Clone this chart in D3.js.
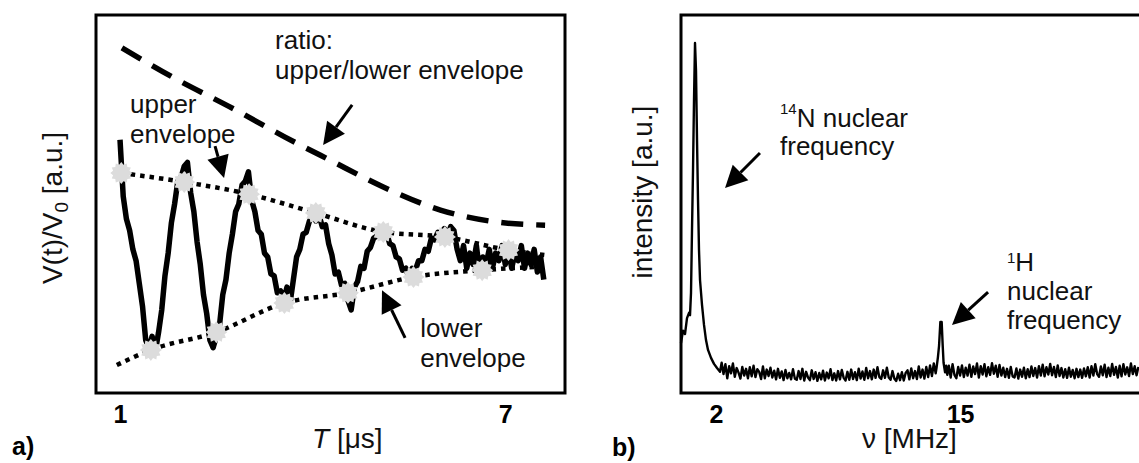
<!DOCTYPE html>
<html>
<head>
<meta charset="utf-8">
<script src="https://cdn.jsdelivr.net/npm/d3@7"></script>
<style>
  body { margin: 0; background: #fff; }
  svg { display: block; font-family: "Liberation Sans", Arial, sans-serif; }
</style>
</head>
<body>
<svg width="1139" height="463"></svg>
<script>
// ---------- panel a: time trace ----------
const sigStart = 1.0, sigStep = 0.05;
const sigV = [
  67, 52, 46, 43, 38, 35, 29, 23, 14, 12,
  15, 11, 16, 22, 31, 37, 45, 50, 56, 57,
  60, 61, 53, 48, 40, 34, 26, 21, 14, 12,
  15, 18, 26, 30, 37, 42, 48, 50, 55, 56,
  58.5, 51, 48, 43, 42, 37, 36, 31.5, 31, 26.5,
  27, 24.5, 28, 24, 30, 36, 38, 42, 42.5, 45.5,
  47, 45.5, 47, 44, 44.5, 39.5, 36.5, 31.5, 32, 28.5,
  29, 24.5, 22, 28, 29.5, 33.5, 33, 37.5, 38.5, 41,
  41.5, 43.5, 43, 42.5, 39.5, 39, 36, 35.5, 32.5, 33,
  30.5, 33, 32.5, 35, 35, 38, 37.5, 41, 40.5, 42.5,
  42, 43.5, 41.5, 44, 43, 38, 35, 39, 33, 37,
  34, 39, 32, 36, 34, 38, 33, 37, 35, 39,
  34, 38, 33, 37, 35, 39, 33, 37, 34, 38,
  32, 36, 30
];
const upperT = [1.02, 2.0, 3.01, 4.05, 5.1, 6.06, 7.05, 7.62];
const upperV = [58.2, 55.8, 52.6, 47.6, 42.6, 41.3, 37.8, 36.5];
const lowerT = [0.95, 1.48, 2.5, 3.56, 4.55, 5.57, 6.64, 7.62];
const lowerV = [7.4, 11.4, 16.1, 23.8, 26.5, 30.7, 32.5, 33.5];
const starUpT = [1.02, 2.0, 3.01, 4.05, 5.1, 6.06, 7.05];
const starUpV = [58.2, 55.8, 52.6, 47.6, 42.6, 41.3, 37.8];
const starLoT = [1.48, 2.5, 3.56, 4.55, 5.57, 6.64];
const starLoV = [11.4, 16.1, 23.8, 26.5, 30.7, 32.5];
const ratioT = [1.03, 1.9, 2.71, 3.57, 4.27, 5.1, 5.99, 6.88, 7.62];
const ratioV = [91.3, 82.8, 75.7, 67.7, 61.6, 54.5, 48.4, 45.2, 44.4];
const tTicks = [1, 7];

// ---------- panel b: spectrum ----------
const peakNF = [0.135, 0.242, 0.348, 0.455, 0.562, 0.615, 0.668, 0.721, 0.775, 0.828, 0.881,
  0.934, 0.988, 1.041, 1.094, 1.148, 1.254, 1.361, 1.467, 1.574, 1.734, 1.893, 2.053, 2.213];
const peakNI = [13.2, 16.5, 15.6, 19.8, 21.2, 20.6, 26.5, 43.1, 59.0, 77.5, 92.6,
  85.4, 66.9, 51.1, 37.8, 29.9, 23.3, 18.0, 14.0, 11.4, 9.3, 7.7, 6.6, 5.6];
const noiseAStart = 2.3;
const noiseA = [
  8.0, 5.0, 7.6, 3.9, 7.1, 5.2, 7.8, 4.3, 6.6, 5.4,
  3.8, 6.9, 4.6, 6.4, 3.9, 6.8, 4.4, 7.2, 4.2, 6.3,
  5.6, 3.7, 7.0, 3.9, 6.2, 4.5, 6.7, 4.1, 5.9, 3.6,
  6.4, 4.0, 5.7, 3.4, 6.1, 3.9, 5.3, 3.6, 6.3, 3.8,
  3.5, 5.8, 3.7, 6.4, 3.3, 5.6, 4.1, 3.4, 6.0, 3.7,
  5.5, 3.2, 5.3, 3.6, 5.9, 3.3, 5.4, 3.9, 6.3, 3.4,
  5.2, 3.3, 5.8, 3.6, 6.1, 4.0, 3.3, 5.6, 3.5, 6.2,
  3.7, 5.5, 3.4, 6.4, 3.8, 5.7, 3.5, 6.6, 3.9, 5.8,
  3.6, 6.2, 4.0, 6.8, 4.2, 3.7, 6.0, 4.0, 6.7, 4.1,
  3.5, 5.8, 3.8, 3.2, 5.1, 3.4, 5.5, 3.3, 5.3, 6.0,
  3.6, 6.5, 3.9, 5.8, 3.7, 7.0, 4.1, 6.2, 3.8, 6.9,
  4.2, 7.3, 4.5, 7.8, 5.2
];
const peakHF = [13.75, 13.82, 13.88, 13.95, 14.02, 14.07, 14.12, 14.2, 14.26, 14.32];
const peakHI = [6.8, 9.5, 12.5, 18.8, 18.8, 13, 8, 5.5, 7.2, 4.8];
const noiseBStart = 14.4;
const noiseB = [
  7.2, 4.1, 7.6, 4.8, 3.9, 6.9, 4.6, 7.3, 4.2, 6.7,
  4.6, 7.5, 4.3, 7.0, 5.0, 7.8, 4.1, 7.1, 4.9, 7.6,
  4.4, 6.8, 4.8, 7.9, 5.1, 7.2, 4.3, 7.4, 4.6, 6.7,
  4.2, 6.4, 4.0, 6.9, 4.4, 4.1, 6.5, 3.8, 6.2, 4.3,
  6.7, 3.9, 6.3, 4.2, 7.0, 4.5, 6.6, 4.1, 7.1, 4.6,
  7.5, 4.4, 6.8, 4.9, 7.7, 4.7, 6.9, 4.2, 7.3, 4.5,
  6.6, 4.1, 6.3, 4.0, 6.7, 4.3, 6.1, 3.9, 6.4, 4.2,
  6.2, 4.0, 6.5, 4.4, 6.8, 4.1, 7.1, 4.6, 7.6, 5.0,
  4.3, 7.0, 4.7, 7.5, 4.2, 6.7, 4.5, 7.7, 4.8, 6.9,
  4.1, 7.2, 4.4, 7.6, 4.9, 6.8, 4.5, 7.8, 5.0, 7.1,
  4.7, 6.9
];
const fTicks = [2, 15];

const svg = d3.select("svg");
const font = "Liberation Sans, Arial, sans-serif";
const noteSize = 26;

function arrow(g, x1, y1, x2, y2) {
  const ang = Math.atan2(y2 - y1, x2 - x1);
  const L = 22, hw = 11;
  const bx = x2 - L * Math.cos(ang), by = y2 - L * Math.sin(ang);
  g.append("line")
    .attr("x1", x1).attr("y1", y1).attr("x2", bx).attr("y2", by)
    .attr("stroke", "#000").attr("stroke-width", 3);
  const px = -Math.sin(ang) * hw, py = Math.cos(ang) * hw;
  g.append("path")
    .attr("d", `M${x2},${y2}L${bx + px},${by + py}L${bx - px},${by - py}Z`)
    .attr("fill", "#000");
}

function burst(r1, r2, n) {
  const pts = d3.range(2 * n).map(i => {
    const a = Math.PI * i / n;
    const r = i % 2 ? r2 : r1;
    return [r * Math.sin(a), -r * Math.cos(a)];
  });
  return "M" + pts.join("L") + "Z";
}

function note(g, x, y, text) {
  return g.append("text").attr("x", x).attr("y", y)
    .attr("font-size", noteSize).attr("fill", "#111").text(text);
}

// ===== panel a =====
const xa = d3.scaleLinear().domain([0.626, 7.93]).range([96, 565]);
const ya = d3.scaleLinear().domain([0, 100]).range([393, 15]);
const ga = svg.append("g");

const sig = sigV.map((v, i) => [sigStart + i * sigStep, v]);
const lineA = d3.line().x(d => xa(d[0])).y(d => ya(d[1]));

ga.append("path").datum(sig)
  .attr("d", lineA)
  .attr("fill", "none").attr("stroke", "#000")
  .attr("stroke-width", 5.5).attr("stroke-linejoin", "round");

const envLine = d3.line().x(d => xa(d[0])).y(d => ya(d[1])).curve(d3.curveMonotoneX);
[[upperT, upperV], [lowerT, lowerV]].forEach(([ts, vs]) => {
  ga.append("path").datum(ts.map((t, i) => [t, vs[i]]))
    .attr("d", envLine)
    .attr("fill", "none").attr("stroke", "#000")
    .attr("stroke-width", 4.5).attr("stroke-dasharray", "4.5,5");
});

const stars = starUpT.map((t, i) => [t, starUpV[i]])
  .concat(starLoT.map((t, i) => [t, starLoV[i]]));
ga.selectAll(".star").data(stars).enter()
  .append("path").attr("class", "star")
  .attr("d", burst(11, 8.5, 12))
  .attr("transform", d => `translate(${xa(d[0])},${ya(d[1])})`)
  .attr("fill", "#dcdcdc");

ga.append("path").datum(ratioT.map((t, i) => [t, ratioV[i]]))
  .attr("d", envLine)
  .attr("fill", "none").attr("stroke", "#000")
  .attr("stroke-width", 5.5).attr("stroke-dasharray", "22,13");

ga.append("rect")
  .attr("x", xa.range()[0]).attr("y", ya.range()[1])
  .attr("width", xa.range()[1] - xa.range()[0])
  .attr("height", ya.range()[0] - ya.range()[1])
  .attr("fill", "none").attr("stroke", "#000").attr("stroke-width", 3);

const axA = ga.append("g").attr("transform", `translate(0,${ya(0)})`)
  .call(d3.axisBottom(xa).tickValues(tTicks).tickSize(0).tickPadding(12));
axA.select(".domain").remove();
axA.attr("font-size", 25).attr("font-family", font).attr("font-weight", "bold");

note(ga, xa(3.415), ya(91.0), "ratio:");
note(ga, xa(3.415), ya(83.1), "upper/lower envelope");
arrow(ga, xa(4.615), ya(76.2), xa(4.163), ya(65.6));
note(ga, xa(1.156), ya(74.1), "upper");
note(ga, xa(1.156), ya(66.1), "envelope");
arrow(ga, xa(2.48), ya(65.3), xa(2.62), ya(56.9));
note(ga, xa(5.675), ya(14.8), "lower");
note(ga, xa(5.675), ya(6.9), "envelope");
arrow(ga, xa(5.44), ya(14.6), xa(5.08), ya(27.2));

const yla = ga.append("text")
  .attr("transform", "translate(62,208) rotate(-90)")
  .attr("text-anchor", "middle").attr("font-size", 28).attr("fill", "#111");
yla.append("tspan").text("V(t)/V");
yla.append("tspan").attr("font-size", 19).attr("dy", 6).text("0");
yla.append("tspan").attr("dy", -6).text(" [a.u.]");

const xla = ga.append("text").attr("x", 312).attr("y", 448)
  .attr("font-size", 28).attr("fill", "#111");
xla.append("tspan").attr("font-style", "italic").text("T");
xla.append("tspan").text(" [\u03bcs]");

ga.append("text").attr("x", 12).attr("y", 455)
  .attr("font-size", 25).attr("font-weight", "bold").text("a)");

// ===== panel b =====
const xb = d3.scaleLinear().domain([0.135, 24.53]).range([681, 1139]);
const yb = d3.scaleLinear().domain([0, 100]).range([393, 15]);
const gb = svg.append("g");

const spec = peakNF.map((f, i) => [f, peakNI[i]])
  .concat(noiseA.map((v, i) => [noiseAStart + i * 0.1, v]))
  .concat(peakHF.map((f, i) => [f, peakHI[i]]))
  .concat(noiseB.map((v, i) => [noiseBStart + i * 0.1, v]));

gb.append("path").datum(spec)
  .attr("d", d3.line().x(d => xb(d[0])).y(d => yb(d[1])))
  .attr("fill", "none").attr("stroke", "#000")
  .attr("stroke-width", 2.4).attr("stroke-linejoin", "round");

gb.append("rect")
  .attr("x", xb.range()[0]).attr("y", yb.range()[1])
  .attr("width", 500)
  .attr("height", yb.range()[0] - yb.range()[1])
  .attr("fill", "none").attr("stroke", "#000").attr("stroke-width", 3);

const axB = gb.append("g").attr("transform", `translate(0,${yb(0)})`)
  .call(d3.axisBottom(xb).tickValues(fTicks).tickSize(0).tickPadding(12));
axB.select(".domain").remove();
axB.attr("font-size", 25).attr("font-family", font).attr("font-weight", "bold");

const nl = gb.append("text").attr("x", xb(5.41)).attr("y", yb(70.4))
  .attr("font-size", noteSize).attr("fill", "#111");
nl.append("tspan").attr("font-size", 15).attr("dy", -13).text("14");
nl.append("tspan").attr("dy", 13).text("N nuclear");
note(gb, xb(5.41), yb(63.0), "frequency");
arrow(gb, xb(4.34), yb(63.5), xb(2.48), yb(54.2));

const hl = gb.append("text").attr("x", xb(17.5)).attr("y", yb(32.3))
  .attr("font-size", noteSize).attr("fill", "#111");
hl.append("tspan").attr("font-size", 15).attr("dy", -8).text("1");
hl.append("tspan").attr("dy", 8).text("H");
note(gb, xb(17.5), yb(24.6), "nuclear");
note(gb, xb(17.5), yb(16.9), "frequency");
arrow(gb, xb(16.49), yb(26.7), xb(14.57), yb(18.0));

gb.append("text")
  .attr("transform", "translate(652,192) rotate(-90)")
  .attr("text-anchor", "middle").attr("font-size", 28).attr("fill", "#111")
  .text("intensity [a.u.]");

gb.append("text").attr("x", 862).attr("y", 448)
  .attr("font-size", 28).attr("fill", "#111")
  .text("\u03bd [MHz]");

gb.append("text").attr("x", 612).attr("y", 456)
  .attr("font-size", 25).attr("font-weight", "bold").text("b)");
</script>
</body>
</html>
